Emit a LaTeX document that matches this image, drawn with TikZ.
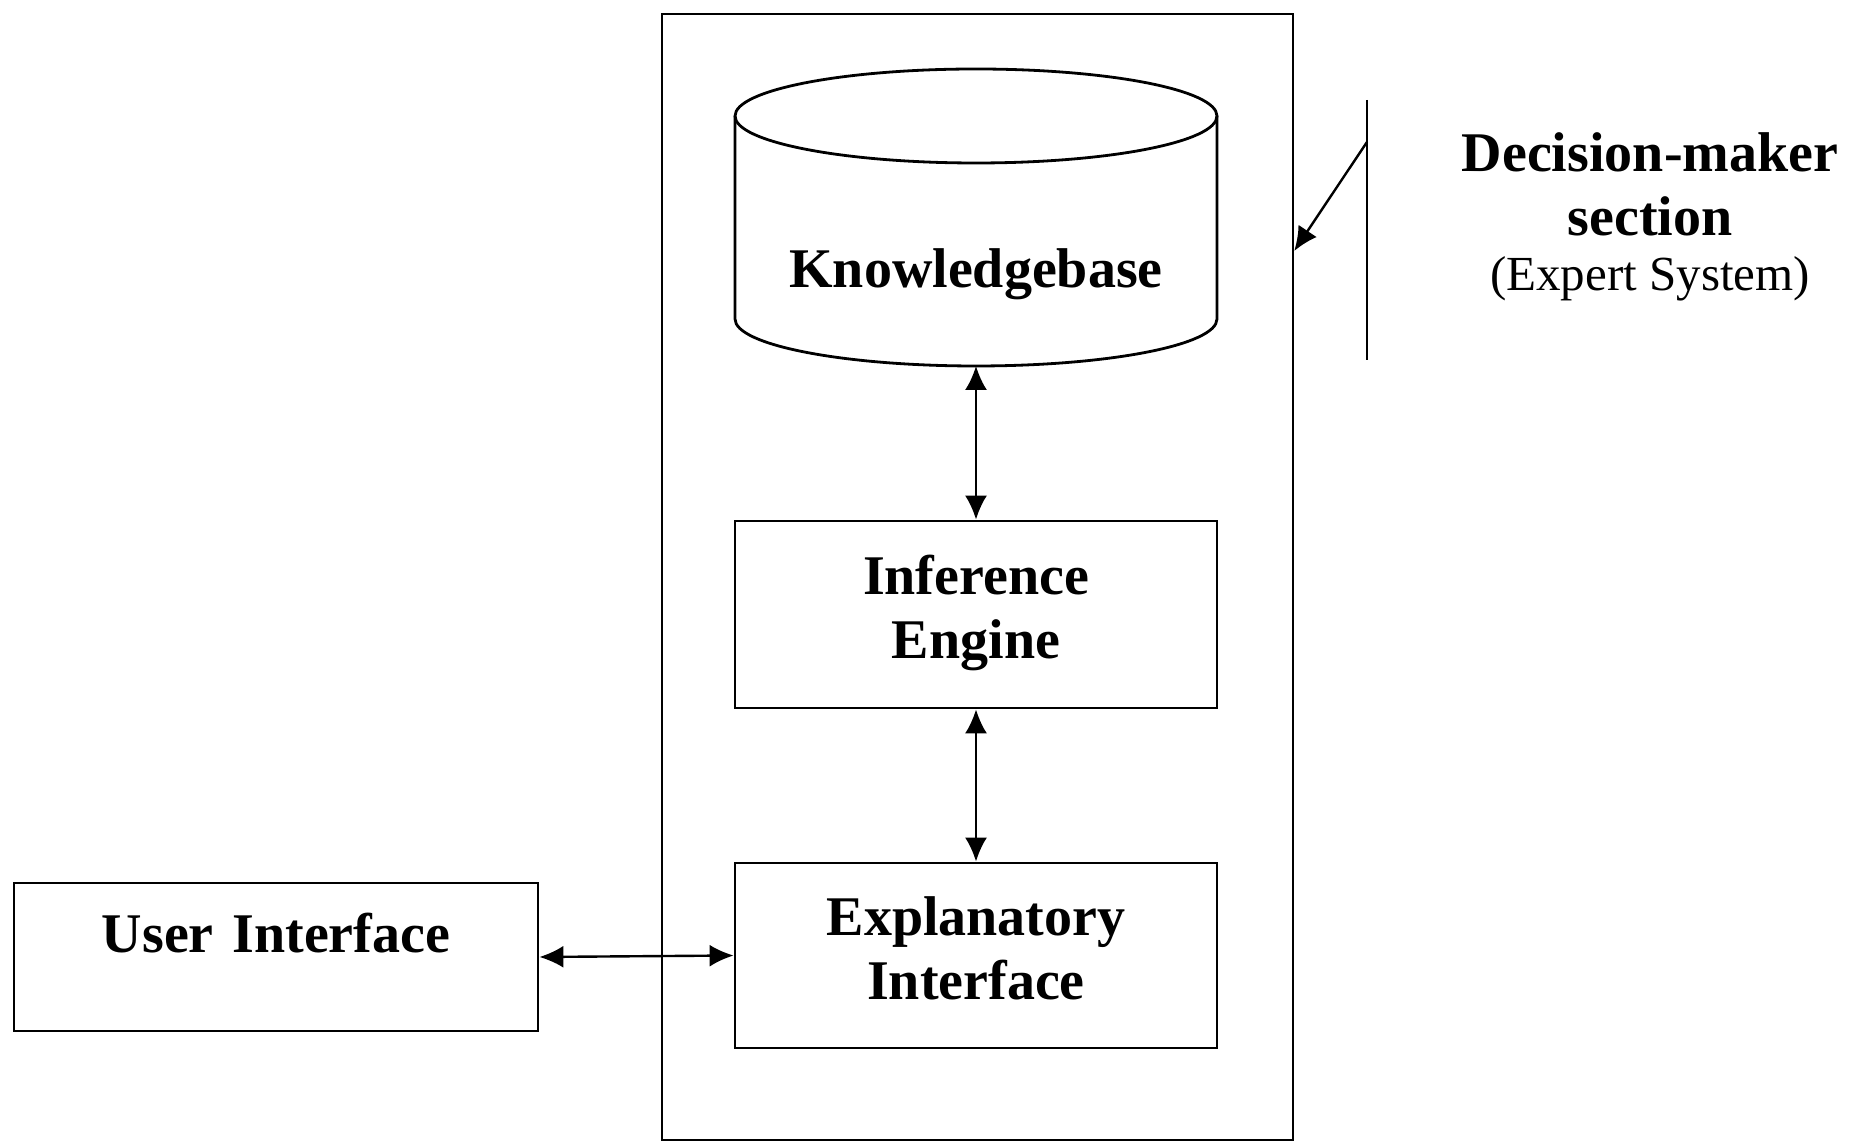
\documentclass[tikz,border=0pt]{standalone}
\usepackage{fontspec}
\setmainfont{Liberation Serif}
\usepackage{tikz}
\usetikzlibrary{arrows.meta}

\begin{document}
\begin{tikzpicture}[x=1pt,y=1pt,
  box/.style={draw,line width=2.8pt,minimum width=482pt,inner sep=0pt,align=center,font=\fontsize{56}{64}\selectfont\bfseries},
  link/.style={line width=2.4pt,{Latex[length=24pt,width=22pt]}-{Latex[length=24pt,width=22pt]}},
  pointer/.style={line width=2.4pt,-{Latex[length=24pt,width=22pt]}}]
\useasboundingbox (0,0) rectangle (1853,1143);
\node[draw,line width=2.4pt,minimum width=631pt,minimum height=1126pt] (es) at (977.5,566) {};
% knowledgebase (cylinder)
\draw[line width=2.8pt] (735,1027) -- (735,824) arc[start angle=180,end angle=360,x radius=241,y radius=47] -- (1217,1027);
\draw[line width=2.8pt] (976,1027) ellipse[x radius=241,y radius=47];
\node[font=\fontsize{56}{64}\selectfont\bfseries] (kb) at (976,869) {Knowledgebase};
\coordinate (kbs) at (976,777);
\node[box,minimum height=187pt,text depth=16pt] (ie) at (976,528.5) {Inference\\Engine};
\node[box,minimum height=185pt,text depth=14pt] (ei) at (976,187.5) {Explanatory\\Interface};
\node[draw,line width=2.8pt,inner sep=0pt,text width=524pt,text height=70pt,text depth=78pt,align=center,font=\fontsize{56}{64}\selectfont\bfseries] (ui) at (276,186) {User Interface};
\draw[link] (kbs) -- (ie);
\draw[link] (ie) -- (ei);
\draw[link] (ui.east) -- (ei.west);
% decision-maker bracket
\coordinate (bt) at (1367,1043);
\coordinate (bb) at (1367,783);
\coordinate (bm) at (1367,1001);
\draw[line width=2.4pt] (bt) -- (bb);
\draw[pointer] (bm) -- (es.east |- 0,892);
\node[align=center,font=\fontsize{56}{64}\selectfont\bfseries] (dm) at (1650,926) {Decision-maker\\section\\[-9pt]{\mdseries\fontsize{49}{55}\selectfont (Expert System)}};
\end{tikzpicture}
\end{document}
